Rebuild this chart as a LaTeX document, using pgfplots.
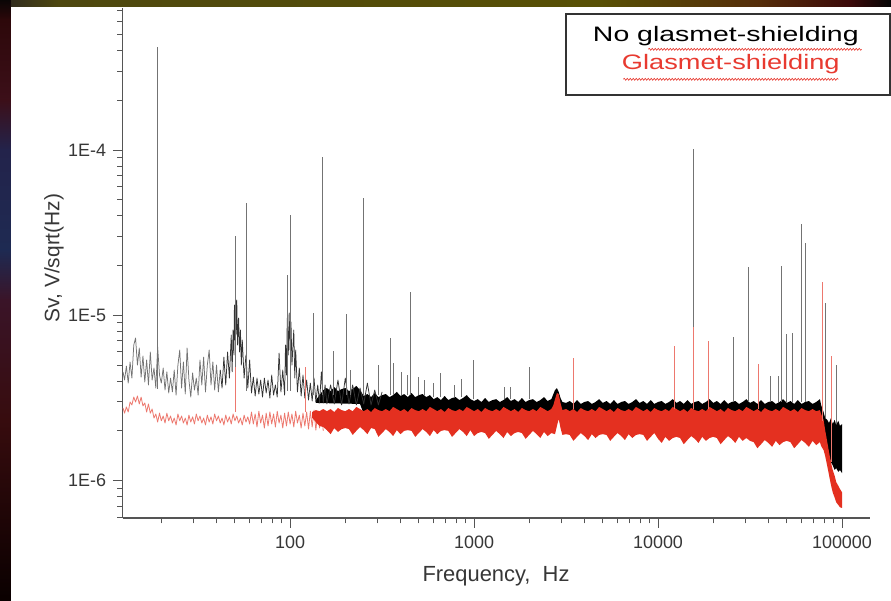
\documentclass[border=0pt]{standalone}
\usepackage{fontspec}
\setmainfont{Liberation Sans}
\usepackage{pgfplots}
\pgfplotsset{compat=1.18}
\usetikzlibrary{decorations.pathmorphing}
\definecolor{redS}{RGB}{228,48,32}
\definecolor{redT}{RGB}{232,58,48}
\definecolor{axgray}{RGB}{85,85,85}
\definecolor{labgray}{RGB}{55,55,55}
\definecolor{s0}{RGB}{10,5,5}
\definecolor{s1}{RGB}{45,8,10}
\definecolor{s2}{RGB}{60,15,25}
\definecolor{s3}{RGB}{35,35,75}
\definecolor{s4}{RGB}{30,42,82}
\definecolor{s5}{RGB}{58,20,40}
\definecolor{s6}{RGB}{55,12,14}
\definecolor{s7}{RGB}{10,0,0}
\definecolor{t0}{RGB}{50,45,30}
\definecolor{t1}{RGB}{78,72,15}
\definecolor{t2}{RGB}{88,80,5}
\definecolor{t3}{RGB}{85,45,10}
\definecolor{t4}{RGB}{60,10,10}
\definecolor{t5}{RGB}{5,5,5}
\begin{document}
\begin{tikzpicture}[x=1bp,y=1bp]
\useasboundingbox (-122.7,-83) rectangle (768.3,518);
\fill[white] (-122.7,-83) rectangle (768.3,518);
% slide frame strips
\shade[top color=s0,bottom color=s1] (-122.7,518) rectangle (-111.7,498);
\shade[top color=s1,bottom color=s2] (-122.7,498) rectangle (-111.7,418);
\shade[top color=s2,bottom color=s3] (-122.7,418) rectangle (-111.7,368);
\shade[top color=s3,bottom color=s4] (-122.7,368) rectangle (-111.7,268);
\shade[top color=s4,bottom color=s5] (-122.7,268) rectangle (-111.7,218);
\shade[top color=s5,bottom color=s6] (-122.7,218) rectangle (-111.7,98);
\shade[top color=s6,bottom color=s7] (-122.7,98) rectangle (-111.7,-83);
\shade[left color=t0,right color=t1] (-111.7,511) rectangle (-62.7,518);
\shade[left color=t1,right color=t2] (-62.7,511) rectangle (477.3,518);
\shade[left color=t2,right color=t3] (477.3,511) rectangle (637.3,518);
\shade[left color=t3,right color=t4] (637.3,511) rectangle (727.3,518);
\shade[left color=t4,right color=t5] (727.3,511) rectangle (768.3,518);

\begin{axis}[
  at={(0,0)}, anchor=south west,
  scale only axis, width=747.3bp, height=510bp,
  xmode=log, ymode=log,
  xmin=12.3, xmax=142000, ymin=5.94e-7, ymax=7.23e-4,
  axis x line*=bottom, axis y line*=left,
  axis line style={axgray, line width=1.3bp},
  xtick={100,1000,10000,100000}, xticklabels={100,1000,10000,100000},
  ytick={1e-6,1e-5,1e-4}, yticklabels={1E-6,1E-5,1E-4},
  minor xtick={20,30,40,50,60,70,80,90,200,300,400,500,600,700,800,900,2000,3000,4000,5000,6000,7000,8000,9000,20000,30000,40000,50000,60000,70000,80000,90000},
  minor ytick={6e-7,7e-7,8e-7,9e-7,2e-6,3e-6,4e-6,5e-6,6e-6,7e-6,8e-6,9e-6,2e-5,3e-5,4e-5,5e-5,6e-5,7e-5,8e-5,9e-5,2e-4,3e-4,4e-4,5e-4,6e-4,7e-4},
  tick align=outside,
  major tick length=10bp, minor tick length=5.5bp,
  tick style={axgray, line width=1bp},
  tick label style={font=\fontsize{18}{21}\selectfont, text=labgray, inner sep=0pt},
  xticklabel style={anchor=north, yshift=-8bp},
  yticklabel style={anchor=east, xshift=-6.5bp},
  unbounded coords=jump,
  clip=true,
]
% ---- black series: dense band (No glasmet-shielding)
\addplot[fill=black, draw=none] coordinates {
(138,3.07e-6) (144.5,3.29e-6)
(151.4,3.53e-6) (158.5,3.63e-6) (166,3.48e-6) (173.8,3.68e-6) (182,3.48e-6) (190.5,3.58e-6) (199.5,3.63e-6) (208.9,3.48e-6) (218.8,3.58e-6) (229.1,3.74e-6)
(239.9,3.53e-6) (251.2,3.25e-6) (263,3.34e-6) (275.4,3.2e-6) (288.4,3.39e-6) (302,3.2e-6) (316.2,3.29e-6) (331.1,3.34e-6) (346.7,3.2e-6) (363.1,3.29e-6)
(380.2,3.44e-6) (398.1,3.25e-6) (416.9,3.34e-6) (436.5,3.2e-6) (457.1,3.39e-6) (478.6,3.2e-6) (501.2,3.29e-6) (524.8,3.34e-6) (549.5,3.2e-6) (575.4,3.29e-6)
(602.6,3.11e-6) (631,3.2e-6) (660.7,3.07e-6) (691.8,3.25e-6) (724.4,3.07e-6) (758.6,3.16e-6) (794.3,3.2e-6) (831.8,3.07e-6) (871,3.16e-6) (912,3.29e-6) (955,3.11e-6)
(1000,3.03e-6) (1047,3.11e-6) (1096,2.99e-6) (1148,3.16e-6) (1202,2.99e-6) (1259,3.07e-6) (1318,3.11e-6) (1380,2.99e-6) (1445,3.07e-6) (1514,3.2e-6)
(1585,3.03e-6) (1660,3.11e-6) (1738,2.99e-6) (1820,3.16e-6) (1905,2.99e-6) (1995,3.07e-6) (2089,3.11e-6) (2188,2.99e-6) (2291,3.07e-6) (2399,3.2e-6)
(2512,3.03e-6) (2630,3.11e-6) (2700,3.34e-6) (2754,3.53e-6) (2820,3.63e-6) (2884,3.44e-6) (2950,3.16e-6) (3020,2.99e-6)
(3162,2.95e-6) (3311,3.03e-6) (3467,2.91e-6) (3631,3.07e-6) (3802,2.91e-6) (3981,2.99e-6) (4169,3.03e-6) (4365,2.91e-6) (4571,2.99e-6) (4786,3.11e-6)
(5012,2.95e-6) (5248,3.03e-6) (5495,2.91e-6) (5754,3.07e-6) (6026,2.91e-6) (6310,2.99e-6) (6607,3.03e-6) (6918,2.91e-6) (7244,2.99e-6) (7586,3.11e-6)
(7943,2.95e-6) (8318,3.03e-6) (8710,2.91e-6) (9120,3.07e-6) (9550,2.91e-6) (10000,2.99e-6) (10470,3.03e-6) (10960,2.91e-6) (11480,2.99e-6) (12020,3.11e-6)
(12590,2.95e-6) (13180,3.03e-6) (13800,2.91e-6) (14450,3.07e-6) (15140,2.91e-6) (15850,2.99e-6) (16600,3.03e-6) (17380,2.91e-6) (18200,2.99e-6) (19050,3.11e-6)
(19950,2.95e-6) (20890,3.03e-6) (21880,2.91e-6) (22910,3.07e-6) (23990,2.91e-6) (25120,2.99e-6) (26300,3.03e-6) (27540,2.91e-6) (28840,2.99e-6) (30200,3.11e-6)
(31620,2.95e-6) (33110,3.03e-6) (34670,2.91e-6) (36310,3.07e-6) (38020,2.91e-6) (39810,2.99e-6) (41690,3.03e-6) (43650,2.91e-6) (45710,2.99e-6) (47860,3.11e-6)
(50120,2.95e-6) (52480,3.03e-6) (54950,2.91e-6) (57540,3.07e-6) (60260,2.91e-6) (63100,2.99e-6) (66070,3.03e-6) (69180,2.91e-6) (72440,2.99e-6) (75860,3.11e-6)
(77000,2.87e-6) (79430,2.6e-6) (81000,2.39e-6) (83180,2.33e-6) (85000,2.23e-6) (87100,2.39e-6) (89000,2.2e-6) (91200,2.33e-6) (93000,2.17e-6) (95500,2.3e-6)
(97500,2.14e-6) (100000,2.2e-6)
(100000,1.11e-6) (97500,1.16e-6) (95500,1.13e-6) (93000,1.19e-6) (91200,1.16e-6) (89000,1.24e-6) (87100,1.29e-6) (85000,1.43e-6) (83180,1.57e-6) (81000,1.76e-6)
(79430,1.97e-6) (77000,2.26e-6) (75860,2.39e-6) (10000,2.53e-6) (1000,2.53e-6) (251.2,2.53e-6) (239.9,2.91e-6) (138,2.95e-6)
};
% ---- black series: low-frequency trace
\addplot[black!55, line width=0.75bp, line join=round] coordinates {
(12.35,4.55e-6) (12.59,4.06e-6) (12.88,4.93e-6) (13.18,3.89e-6) (13.49,5.22e-6) (13.8,4.17e-6) (14.13,6.61e-6) (14.45,7.29e-6) (14.79,5.0e-6) (15.14,6.34e-6)
(15.49,4.23e-6) (15.85,5.67e-6) (16.22,3.95e-6) (16.6,5.37e-6) (16.98,3.79e-6) (17.38,6.0e-6) (17.78,4.06e-6) (18.2,4.8e-6) (18.62,3.63e-6) (19.05,6.43e-6)
(19.5,4.35e-6) (19.95,3.89e-6) (20.42,4.8e-6) (20.89,3.53e-6) (21.38,4.55e-6) (21.88,3.39e-6) (22.39,4.17e-6) (22.91,3.44e-6) (23.44,4.67e-6) (23.99,3.29e-6)
(24.55,5.0e-6) (25.12,6.17e-6) (25.7,3.63e-6) (26.3,5.22e-6) (26.92,3.34e-6) (27.54,6.34e-6) (28.18,4.06e-6) (28.84,3.2e-6) (29.51,4.48e-6) (30.2,3.53e-6)
(30.9,4.17e-6) (31.62,3.29e-6) (32.36,5.37e-6) (33.11,3.79e-6) (33.88,5.59e-6) (34.67,3.44e-6) (35.48,5.0e-6) (36.31,6.17e-6) (37.15,3.79e-6) (38.02,5.22e-6)
(38.9,3.53e-6) (39.81,5.0e-6) (40.74,3.44e-6) (41.69,4.67e-6)
};
\addplot[black!80, line width=0.75bp, line join=round] coordinates {
(41.69,4.67e-6) (42.66,3.63e-6) (43.65,5.59e-6) (44.67,3.79e-6) (45.71,6.0e-6) (46.77,4.17e-6) (47.86,7.6e-6)
(48.4,4.55e-6) (48.98,8.15e-6) (49.5,5.75e-6) (49.8,1.155e-5) (50.12,7.09e-6) (50.5,1.364e-5) (50.8,7.6e-6) (51.29,1.238e-5) (51.8,6.61e-6) (52.48,9.63e-6)
(53.1,6.0e-6) (53.7,8.15e-6) (54.3,5.0e-6) (54.95,7.09e-6) (56.23,4.17e-6) (57.54,5.75e-6) (58.88,3.63e-6) (60.26,5.37e-6) (61.66,3.39e-6) (63.1,4.23e-6)
(64.57,3.25e-6) (66.07,4.17e-6) (67.61,3.34e-6) (69.18,4.06e-6) (70.79,3.2e-6) (72.44,4.17e-6) (74.13,3.39e-6) (75.86,4.06e-6) (77.62,3.16e-6) (79.43,4.35e-6)
(81.28,3.29e-6) (83.18,3.79e-6) (85.11,3.2e-6) (87.1,5.91e-6) (89.13,3.44e-6) (91.2,4.67e-6) (93.33,3.29e-6) (94.4,6.61e-6) (95.5,4.35e-6) (96.5,9.63e-6)
(97.72,5.75e-6) (98.8,1.033e-5) (100,6.17e-6) (101.1,9.11e-6) (102.3,5.0e-6) (104.7,8.15e-6) (106,4.17e-6) (107.2,6.17e-6) (109.6,3.44e-6) (112.2,4.8e-6)
(114.8,3.25e-6) (117.5,4.35e-6) (120.2,3.16e-6) (123,4.06e-6) (125.9,3.07e-6) (128.8,3.89e-6) (131.8,3.03e-6) (134.9,4.17e-6) (138,2.99e-6) (141.3,3.79e-6)
(144.5,2.95e-6) (147.9,4.55e-6) (151.4,2.95e-6) (154.9,3.79e-6) (158.5,2.91e-6) (166,3.79e-6) (173.8,2.91e-6) (182,4.06e-6) (190.5,2.87e-6) (199.5,4.17e-6)
(208.9,2.91e-6) (218.8,3.79e-6) (229.1,2.87e-6) (239.9,3.63e-6) (251.2,2.91e-6) (263,3.89e-6) (275.4,2.87e-6) (288.4,3.53e-6) (302,2.87e-6) (316.2,3.44e-6)
};
% ---- red series: low-frequency trace (Glasmet-shielding)
\addplot[redS!65, line width=0.8bp, line join=round] coordinates {
(12.35,2.75e-6) (12.59,2.56e-6) (12.88,2.79e-6) (13.18,2.6e-6) (13.49,2.99e-6) (13.8,2.87e-6) (14.13,3.2e-6) (14.45,2.99e-6) (14.79,3.25e-6) (15.14,2.91e-6)
(15.49,3.2e-6) (15.85,2.83e-6) (16.22,2.95e-6) (16.6,2.6e-6) (16.98,2.91e-6) (17.38,2.56e-6) (17.78,2.71e-6) (18.2,2.39e-6) (18.62,2.53e-6) (19.05,2.26e-6)
(19.5,2.56e-6) (19.95,2.3e-6) (20.42,2.46e-6) (20.89,2.23e-6) (21.38,2.56e-6) (21.88,2.3e-6) (22.39,2.46e-6) (22.91,2.23e-6) (23.44,2.39e-6) (23.99,2.17e-6)
(24.55,2.53e-6) (25.12,2.3e-6) (25.7,2.46e-6) (26.3,2.23e-6) (26.92,2.39e-6) (27.54,2.17e-6) (28.18,2.49e-6) (28.84,2.26e-6) (29.51,2.43e-6) (30.2,2.2e-6)
(30.9,2.53e-6) (31.62,2.3e-6) (32.36,2.46e-6) (33.11,2.23e-6) (33.88,2.39e-6) (34.67,2.17e-6) (35.48,2.49e-6) (36.31,2.26e-6) (37.15,2.43e-6) (38.02,2.2e-6)
(38.9,2.53e-6) (39.81,2.3e-6) (40.74,2.46e-6) (41.69,2.23e-6) (42.66,2.39e-6) (43.65,2.17e-6) (44.67,2.49e-6) (45.71,2.26e-6) (46.77,2.43e-6) (47.86,2.2e-6)
(48.98,2.53e-6) (50.12,2.3e-6) (51.29,2.46e-6) (52.48,2.23e-6) (53.7,2.39e-6) (54.95,2.17e-6) (56.23,2.49e-6) (57.54,2.26e-6) (58.88,2.43e-6) (60.26,2.2e-6)
(61.66,2.6e-6) (63.1,2.2e-6) (64.57,2.53e-6) (66.07,2.11e-6) (67.61,2.63e-6) (69.18,2.23e-6) (70.79,2.49e-6) (72.44,2.08e-6) (74.13,2.56e-6) (75.86,2.14e-6)
(77.62,2.6e-6) (79.43,2.2e-6) (81.28,2.53e-6) (83.18,2.11e-6) (85.11,2.63e-6) (87.1,2.23e-6) (89.13,2.49e-6) (91.2,2.08e-6) (93.33,2.56e-6) (95.5,2.14e-6)
(97.72,2.6e-6) (100,2.2e-6) (102.3,2.53e-6) (104.7,2.11e-6) (107.2,2.63e-6) (109.6,2.23e-6) (112.2,2.49e-6) (114.8,2.08e-6) (117.5,2.56e-6) (120.2,2.14e-6)
(123,2.6e-6) (125.9,2.05e-6) (128.8,2.63e-6) (131.8,2.11e-6) (134.9,2.67e-6) (138,2.02e-6) (141.3,2.6e-6) (144.5,2.08e-6) (147.9,2.67e-6) (151.4,2.0e-6)
};
% ---- red series: dense band
\addplot[fill=redS, draw=none] coordinates {
(131.8,2.6e-6) (138,2.67e-6) (144.5,2.63e-6)
(151.4,2.71e-6) (158.5,2.63e-6) (166,2.71e-6) (173.8,2.6e-6) (182,2.75e-6) (190.5,2.67e-6) (199.5,2.63e-6) (208.9,2.71e-6) (218.8,2.63e-6) (229.1,2.79e-6)
(239.9,2.71e-6) (251.2,2.63e-6) (263,2.71e-6) (275.4,2.6e-6) (288.4,2.75e-6) (302,2.67e-6) (316.2,2.63e-6) (331.1,2.71e-6) (346.7,2.63e-6) (363.1,2.79e-6)
(380.2,2.71e-6) (398.1,2.63e-6) (416.9,2.71e-6) (436.5,2.6e-6) (457.1,2.75e-6) (478.6,2.67e-6) (501.2,2.63e-6) (524.8,2.71e-6) (549.5,2.63e-6) (575.4,2.79e-6)
(602.6,2.71e-6) (631,2.63e-6) (660.7,2.71e-6) (691.8,2.6e-6) (724.4,2.75e-6) (758.6,2.67e-6) (794.3,2.63e-6) (831.8,2.71e-6) (871,2.63e-6) (912,2.79e-6)
(955,2.71e-6) (1000,2.63e-6) (1047,2.71e-6) (1096,2.6e-6) (1148,2.75e-6) (1202,2.67e-6) (1259,2.63e-6) (1318,2.71e-6) (1380,2.63e-6) (1445,2.79e-6)
(1514,2.71e-6) (1585,2.63e-6) (1660,2.71e-6) (1738,2.6e-6) (1820,2.75e-6) (1905,2.67e-6) (1995,2.63e-6) (2089,2.71e-6) (2188,2.63e-6) (2291,2.79e-6)
(2399,2.71e-6) (2512,2.63e-6) (2630,2.71e-6) (2700,2.87e-6) (2754,3.11e-6) (2820,3.39e-6) (2884,3.34e-6) (2950,2.95e-6) (3020,2.67e-6)
(3162,2.71e-6) (3311,2.63e-6) (3467,2.71e-6) (3631,2.6e-6) (3802,2.75e-6) (3981,2.67e-6) (4169,2.63e-6) (4365,2.71e-6) (4571,2.63e-6) (4786,2.79e-6)
(5012,2.71e-6) (5248,2.63e-6) (5495,2.71e-6) (5754,2.6e-6) (6026,2.75e-6) (6310,2.67e-6) (6607,2.63e-6) (6918,2.71e-6) (7244,2.63e-6) (7586,2.79e-6)
(7943,2.71e-6) (8318,2.63e-6) (8710,2.71e-6) (9120,2.6e-6) (9550,2.75e-6) (10000,2.67e-6) (10470,2.63e-6) (10960,2.71e-6) (11480,2.63e-6) (12020,2.79e-6)
(12590,2.71e-6) (13180,2.63e-6) (13800,2.71e-6) (14450,2.6e-6) (15140,2.75e-6) (15850,2.67e-6) (16600,2.63e-6) (17380,2.71e-6) (18200,2.63e-6) (19050,2.79e-6)
(19950,2.71e-6) (20890,2.63e-6) (21880,2.71e-6) (22910,2.6e-6) (23990,2.75e-6) (25120,2.67e-6) (26300,2.63e-6) (27540,2.71e-6) (28840,2.63e-6) (30200,2.79e-6)
(31620,2.71e-6) (33110,2.63e-6) (34670,2.71e-6) (36310,2.6e-6) (38020,2.75e-6) (39810,2.67e-6) (41690,2.63e-6) (43650,2.71e-6) (45710,2.63e-6) (47860,2.79e-6)
(50120,2.71e-6) (52480,2.63e-6) (54950,2.71e-6) (57540,2.6e-6) (60260,2.75e-6) (63100,2.67e-6) (66070,2.63e-6) (69180,2.71e-6) (72440,2.63e-6) (75860,2.67e-6)
(77000,2.53e-6) (79430,2.33e-6) (81000,2.02e-6) (83180,1.71e-6) (85000,1.49e-6) (87100,1.29e-6) (89000,1.16e-6) (91200,1.07e-6) (93000,9.8e-7) (95500,9.3e-7)
(97500,8.9e-7) (100000,8.5e-7)
(100000,6.83e-7) (97500,6.9e-7) (95500,7.12e-7) (93000,7.4e-7) (91200,7.9e-7) (89000,8.5e-7) (87100,9.4e-7) (85000,1.08e-6) (83180,1.22e-6) (81000,1.41e-6)
(79430,1.53e-6) (77000,1.62e-6) (75860,1.71e-6) (72440,1.64e-6) (69180,1.74e-6) (66070,1.6e-6) (63100,1.69e-6) (60260,1.76e-6) (57540,1.66e-6) (54950,1.57e-6)
(52480,1.71e-6) (50120,1.74e-6) (47860,1.71e-6) (45710,1.64e-6) (43650,1.74e-6) (41690,1.6e-6) (39810,1.69e-6) (38020,1.76e-6) (36310,1.66e-6) (34670,1.57e-6)
(33110,1.71e-6) (31620,1.74e-6) (30200,1.81e-6) (28840,1.74e-6) (27540,1.84e-6) (26300,1.69e-6) (25120,1.79e-6) (23990,1.86e-6) (22910,1.76e-6) (21880,1.66e-6)
(20890,1.81e-6) (19950,1.84e-6) (19050,1.81e-6) (18200,1.74e-6) (17380,1.84e-6) (16600,1.69e-6) (15850,1.79e-6) (15140,1.86e-6) (14450,1.76e-6) (13800,1.66e-6)
(13180,1.81e-6) (12590,1.84e-6) (12020,1.81e-6) (11480,1.74e-6) (10960,1.84e-6) (10470,1.69e-6) (10000,1.79e-6) (9550,1.94e-6) (9120,1.84e-6) (8710,1.74e-6)
(8318,1.89e-6) (7943,1.91e-6) (7586,1.89e-6) (7244,1.81e-6) (6918,1.91e-6) (6607,1.76e-6) (6310,1.86e-6) (6026,1.94e-6) (5754,1.84e-6) (5495,1.74e-6)
(5248,1.89e-6) (5012,1.91e-6) (4786,1.89e-6) (4571,1.81e-6) (4365,1.91e-6) (4169,1.76e-6) (3981,1.86e-6) (3802,1.94e-6) (3631,1.84e-6) (3467,1.74e-6)
(3311,1.89e-6) (3162,1.91e-6) (3020,1.89e-6) (2950,2.08e-6) (2884,2.36e-6) (2820,2.14e-6) (2754,1.91e-6) (2630,1.94e-6) (2512,1.86e-6) (2399,1.97e-6)
(2291,1.81e-6) (2188,1.91e-6) (2089,2.0e-6) (1995,1.89e-6) (1905,1.79e-6) (1820,1.94e-6) (1738,1.97e-6) (1660,1.94e-6) (1585,1.86e-6) (1514,1.97e-6)
(1445,1.81e-6) (1380,1.91e-6) (1318,2.0e-6) (1259,1.89e-6) (1202,1.79e-6) (1148,1.94e-6) (1096,1.97e-6) (1047,1.94e-6) (1000,1.86e-6) (955,2.02e-6)
(912,1.86e-6) (871,1.97e-6) (831.8,2.05e-6) (794.3,1.94e-6) (758.6,1.84e-6) (724.4,2.0e-6) (691.8,2.02e-6) (660.7,2.0e-6) (631,1.91e-6) (602.6,2.02e-6)
(575.4,1.86e-6) (549.5,1.97e-6) (524.8,2.05e-6) (501.2,1.94e-6) (478.6,1.84e-6) (457.1,2.0e-6) (436.5,2.02e-6) (416.9,2.0e-6) (398.1,1.91e-6) (380.2,2.02e-6)
(363.1,1.86e-6) (346.7,1.97e-6) (331.1,2.05e-6) (316.2,1.94e-6) (302,1.84e-6) (288.4,2.05e-6) (275.4,2.08e-6) (263,1.91e-6) (251.2,2.02e-6) (239.9,2.11e-6)
(229.1,2.0e-6) (218.8,1.89e-6) (208.9,2.05e-6) (199.5,2.08e-6) (190.5,2.05e-6) (182,1.97e-6) (173.8,2.08e-6) (166,1.91e-6) (158.5,2.02e-6) (151.4,2.11e-6)
(144.5,2.14e-6) (138,2.26e-6) (131.8,2.4e-6)
};
% ---- black spectral lines
\addplot[black!55, line width=0.75bp] coordinates {
(19.0,3.6e-6) (19.0,4.22e-4) (19.0,nan)
(50.2,3.5e-6) (50.2,3.02e-5) (50.2,nan)
(57.6,3.5e-6) (57.6,4.77e-5) (57.6,nan)
(96.3,3.5e-6) (96.3,1.75e-5) (96.3,nan)
(100,3.5e-6) (100,4.04e-5) (100,nan)
(133.4,3.3e-6) (133.4,1.03e-5) (133.4,nan)
(150.6,3.3e-6) (150.6,9.1e-5) (150.6,nan)
(171,3.3e-6) (171,6.1e-6) (171,nan)
(201,3.3e-6) (201,1.02e-5) (201,nan)
(212,3.3e-6) (212,4.7e-6) (212,nan)
(250,3.3e-6) (250,5.1e-5) (250,nan)
(300,3.3e-6) (300,5.0e-6) (300,nan)
(349,3.3e-6) (349,7.3e-6) (349,nan)
(362,3.3e-6) (362,5.15e-6) (362,nan)
(405,3.3e-6) (405,4.55e-6) (405,nan)
(432,3.3e-6) (432,4.35e-6) (432,nan)
(453,3.3e-6) (453,1.39e-5) (453,nan)
(496,3.3e-6) (496,4.23e-6) (496,nan)
(535,3.3e-6) (535,4.06e-6) (535,nan)
(599,3.2e-6) (599,3.89e-6) (599,nan)
(653,3.2e-6) (653,4.48e-6) (653,nan)
(779,3.2e-6) (779,3.79e-6) (779,nan)
(851,3.2e-6) (851,4.12e-6) (851,nan)
(991,3.1e-6) (991,5.4e-6) (991,nan)
(1456,3.1e-6) (1456,3.68e-6) (1456,nan)
(1569,3.1e-6) (1569,3.68e-6) (1569,nan)
(1990,3.1e-6) (1990,4.9e-6) (1990,nan)
(15500,3.0e-6) (15500,1.02e-4) (15500,nan)
(25600,3.0e-6) (25600,7.4e-6) (25600,nan)
(31000,3.0e-6) (31000,1.97e-5) (31000,nan)
(41000,3.0e-6) (41000,4.3e-6) (41000,nan)
(45100,3.0e-6) (45100,4.3e-6) (45100,nan)
(47000,3.0e-6) (47000,1.98e-5) (47000,nan)
(49700,3.0e-6) (49700,7.75e-6) (49700,nan)
(53600,3.0e-6) (53600,7.8e-6) (53600,nan)
(60400,3.0e-6) (60400,3.56e-5) (60400,nan)
(63000,3.0e-6) (63000,2.72e-5) (63000,nan)
(81700,2.4e-6) (81700,1.18e-5) (81700,nan)
(93000,2.2e-6) (93000,5.0e-6)
};
% ---- red spectral lines
\addplot[redS!65, line width=0.6bp] coordinates {
(50.2,2.6e-6) (50.2,4.9e-6) (50.2,nan)
(121,2.6e-6) (121,4.9e-6) (121,nan)
(3470,2.7e-6) (3470,5.5e-6) (3470,nan)
(12200,2.7e-6) (12200,6.5e-6) (12200,nan)
(15500,2.7e-6) (15500,8.5e-6) (15500,nan)
(18700,2.7e-6) (18700,7.0e-6) (18700,nan)
(35000,2.7e-6) (35000,5.1e-6) (35000,nan)
(78500,2.3e-6) (78500,1.6e-5) (78500,nan)
(88000,1.3e-6) (88000,5.7e-6)
};
\end{axis}
% axis titles
\node[rotate=90, font=\fontsize{21}{24}\selectfont, text=labgray] at (-68.7,260) {Sv, V/sqrt(Hz)};
\node[font=\fontsize{22}{25}\selectfont, text=labgray] at (373.3,-58) {Frequency,\ \ Hz};
% legend box
\draw[line width=1.3bp, black!80, fill=white] (443.3,423) rectangle (767.3,504);
\node[font=\fontsize{21}{24}\selectfont, xscale=1.36] at (603.1,482) {No glasmet-shielding};
\node[font=\fontsize{21}{24}\selectfont, text=redT, xscale=1.3] at (608.1,454) {Glasmet-shielding};
\draw[redT, line width=0.6bp, decorate, decoration={snake, amplitude=1bp, segment length=3bp}] (525.6,468.7) -- (739,468.7);
\draw[redT, line width=0.6bp, decorate, decoration={snake, amplitude=1bp, segment length=3bp}] (500.6,438.7) -- (715.6,438.7);
\end{tikzpicture}
\end{document}
